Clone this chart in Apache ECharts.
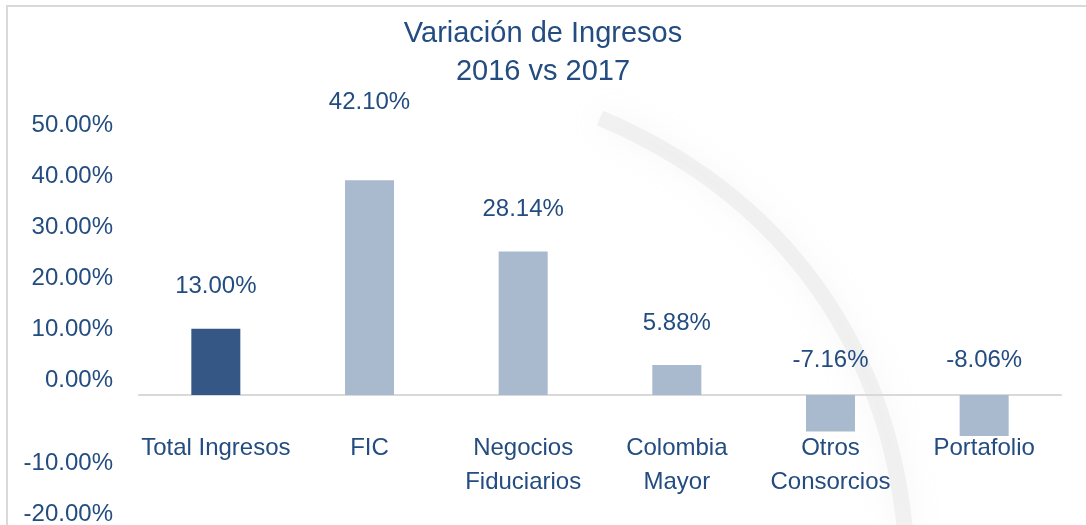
<!DOCTYPE html>
<html>
<head>
<meta charset="utf-8">
<title>Variación de Ingresos</title>
<script src="https://cdn.jsdelivr.net/npm/echarts@6/dist/echarts.min.js"></script>
<style>
    html, body { margin: 0; padding: 0; background: #fff; }
    #main { width: 1086px; height: 525px; }
</style>
</head>
<body>
<div id="main"></div>
<script>
// categorias y variacion 2016 vs 2017 (%)
var categorias = ['Total Ingresos', 'FIC', 'Negocios\nFiduciarios', 'Colombia\nMayor', 'Otros\nConsorcios', 'Portafolio'];
var variacion = [13.00, 42.10, 28.14, 5.88, -7.16, -8.06];
var ejeMin = -20, ejeMax = 50, ejePaso = 10;

var azulTexto = '#234c80';
var fuente = "'Liberation Sans', Arial, sans-serif";

var chart = echarts.init(document.getElementById('main'));

var option = {
    backgroundColor: '#fff',
    animation: false,
    title: {
        text: 'Variación de Ingresos\n2016 vs 2017',
        left: 'center',
        top: 10,
        textStyle: {
            color: azulTexto,
            fontFamily: fuente,
            fontWeight: 'normal',
            fontSize: 29,
            lineHeight: 38
        }
    },
    graphic: [{
        // marca de agua gris del fondo
        type: 'bezierCurve',
        silent: true,
        z: -10,
        shape: { x1: 600, y1: 118, cpx1: 770, cpy1: 190, cpx2: 885, cpy2: 330, x2: 905, y2: 530 },
        style: { stroke: 'rgba(215,215,215,0.3)', lineWidth: 16, fill: null, shadowBlur: 30, shadowColor: 'rgba(200,200,200,0.6)' }
    }, {
        type: 'polyline',
        silent: true,
        shape: { points: [[7, 525], [7, 6], [1086, 6]] },
        style: { stroke: '#d9d9d9', lineWidth: 2, fill: null }
    }],
    grid: { left: 139, right: 25, top: 140, bottom: 28, outerBoundsMode: 'none', containLabel: false },
    xAxis: {
        type: 'category',
        data: categorias,
        axisLine: { onZero: true, lineStyle: { color: '#d9d9d9', width: 2 } },
        axisTick: { show: false },
        axisLabel: {
            interval: 0,
            margin: -66,
            color: azulTexto,
            fontFamily: fuente,
            fontSize: 24,
            lineHeight: 34
        }
    },
    yAxis: {
        type: 'value',
        min: ejeMin,
        max: ejeMax,
        interval: ejePaso,
        splitLine: { show: false },
        axisLine: { show: false },
        axisTick: { show: false },
        axisLabel: {
            margin: 26,
            formatter: function (v) {
                var t = v.toFixed(2) + '%';
                return v >= 0 ? '{p|' + t + '}' : '{n|' + t + '}';
            },
            rich: {
                p: { color: azulTexto, fontFamily: fuente, fontSize: 24, padding: [0, 0, 29, 0] },
                n: { color: azulTexto, fontFamily: fuente, fontSize: 24, padding: [35, 0, 0, 0] }
            }
        }
    },
    series: [{
        type: 'bar',
        barWidth: 49,
        data: variacion.map(function (v, i) {
            return {
                value: v,
                itemStyle: { color: i === 0 ? '#345785' : '#a9b9ce' },
                label: { distance: i === 1 ? 66 : (v < 0 ? 23 : 30) }
            };
        }),
        label: {
            show: true,
            position: 'top',
            color: azulTexto,
            fontFamily: fuente,
            fontSize: 24,
            formatter: function (p) { return p.value.toFixed(2) + '%'; }
        }
    }]
};

chart.setOption(option);
</script>
</body>
</html>
